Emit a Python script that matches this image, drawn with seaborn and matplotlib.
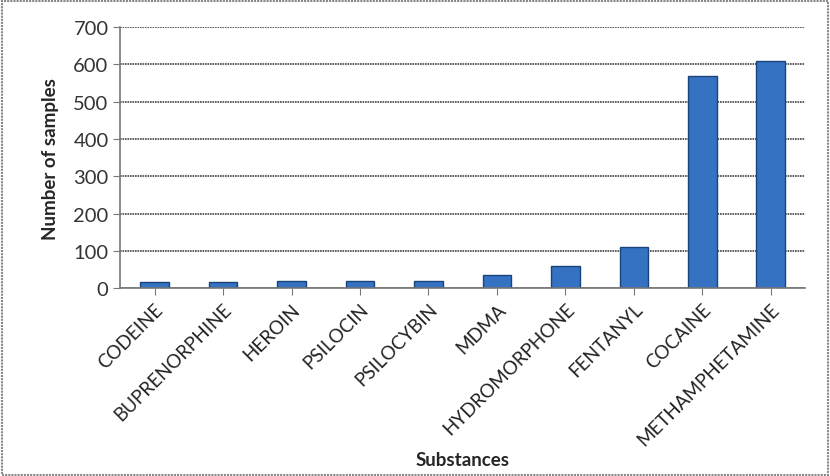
import matplotlib
matplotlib.use("Agg")
import matplotlib.pyplot as plt
import pandas as pd
import seaborn as sns

substances = ["CODEINE", "BUPRENORPHINE", "HEROIN", "PSILOCIN", "PSILOCYBIN",
              "MDMA", "HYDROMORPHONE", "FENTANYL", "COCAINE", "METHAMPHETAMINE"]
samples = [16, 16, 20, 20, 20, 34, 58, 110, 568, 608]
y_ticks = [0, 100, 200, 300, 400, 500, 600, 700]

df = pd.DataFrame({"substance": substances, "samples": samples})

sns.set_style("white")
plt.rcParams["font.family"] = ["Lato", "DejaVu Sans"]

fig = plt.figure(figsize=(8.30, 4.77), dpi=100)
ax = fig.add_axes([0.145, 0.394, 0.825, 0.547])

sns.barplot(data=df, x="substance", y="samples", color="#3572c2", width=0.42,
            edgecolor="#1a437c", linewidth=1.0, saturation=1, ax=ax)

ax.set_ylim(0, 700)
ax.set_yticks(y_ticks)
ax.set_xlim(-0.5, len(substances) - 0.5)
ax.yaxis.grid(True, color="#444444", linewidth=1.2, linestyle=(0, (1, 0.5)))
ax.set_axisbelow(True)
for side in ("top", "right"):
    ax.spines[side].set_visible(False)
for side in ("left", "bottom"):
    ax.spines[side].set_color("#777777")
    ax.spines[side].set_linewidth(1.2)

ax.tick_params(axis="y", labelsize=14.5, colors="#333333", length=5, direction="out")
ax.tick_params(axis="x", labelsize=13.5, colors="#222222", length=5, direction="out")
ax.tick_params(axis="both", color="#777777", left=True, bottom=True)
plt.setp(ax.get_xticklabels(), rotation=45, ha="right", rotation_mode="anchor")

ax.set_xlabel("Substances", fontsize=13.5, fontweight="bold")
ax.xaxis.set_label_coords(0.5, -0.625)
ax.set_ylabel("Number of samples", fontsize=13.5, fontweight="bold", labelpad=10)

fig.patches.append(plt.Rectangle((0.002, 0.003), 0.995, 0.993, transform=fig.transFigure,
                                 fill=False, edgecolor="#888888", linewidth=1.5, linestyle=(0, (1, 0.5))))

fig.savefig("out.png", dpi=100)
